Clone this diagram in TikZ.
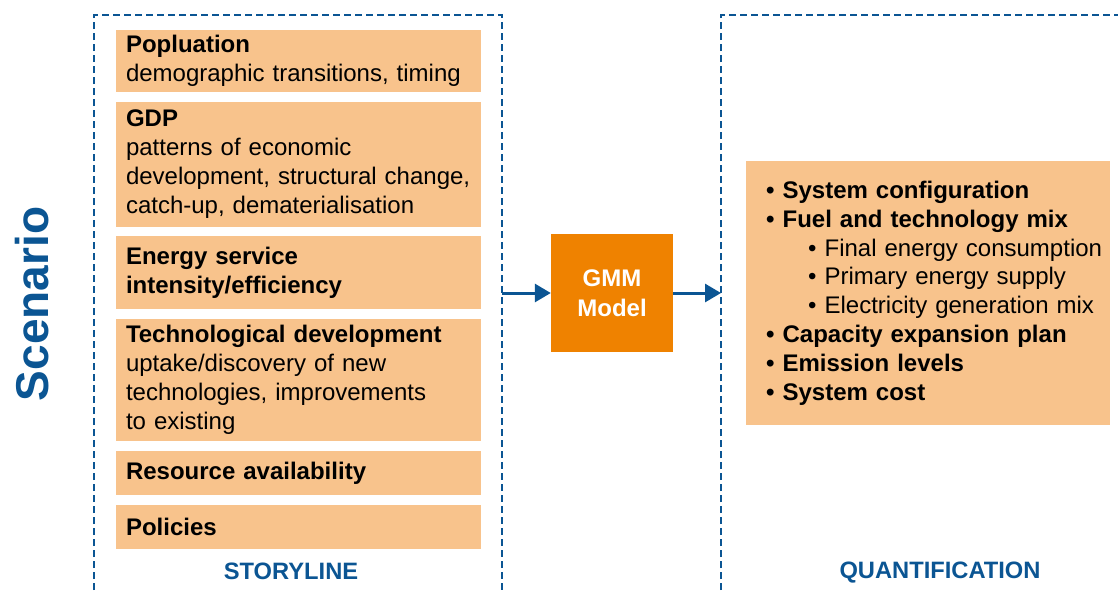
\documentclass[tikz,border=0pt]{standalone}
\usepackage{fontspec}
\setmainfont{Liberation Sans}
\usetikzlibrary{arrows.meta,positioning}

\definecolor{scenblue}{HTML}{0B5593}
\definecolor{lightorange}{HTML}{F8C38C}
\definecolor{darkorange}{HTML}{EF8200}

\tikzset{
	storybox/.style={fill=lightorange, anchor=north, minimum width=365pt, text width=345pt,
		inner xsep=10pt, outer sep=0pt, align=left, font=\fontsize{24}{29}\selectfont},
	frame/.style={draw=scenblue, line width=2.2pt, dash pattern=on 7pt off 4pt},
	flow/.style={draw=scenblue, line width=3pt, -{Triangle[length=16pt,width=18pt]}},
	caption/.style={text=scenblue, font=\fontsize{23.7}{26}\selectfont\bfseries}
}

\begin{document}
\begin{tikzpicture}[x=1pt,y=-1pt]
	\useasboundingbox (0,0) rectangle (1118,590);
	% frames
	\draw[frame] (94,590) -- (94,15) -- (502,15) -- (502,590);
	\draw[frame] (721,590) -- (721,15) -- (1118,15);
	\coordinate (storyR) at (502,293);
	\coordinate (quantL) at (721,293);

	\node[rotate=90, text=scenblue, font=\fontsize{46}{50}\selectfont\bfseries] (scen) at (32,304) {Scenario};

	% storyline
	\node[storybox, minimum height=62pt] (pop) at (298.5,30)
		{\textbf{Popluation}\\demographic transitions, timing};
	\node[storybox, minimum height=125pt, below=10pt of pop] (gdp)
		{\textbf{GDP}\\patterns of economic\\development, structural change,\\catch-up, dematerialisation};
	\node[storybox, minimum height=73pt, below=9pt of gdp] (eff)
		{\textbf{Energy service}\\\textbf{intensity/efficiency}};
	\node[storybox, minimum height=122pt, below=10pt of eff] (tech)
		{\textbf{Technological development}\\uptake/discovery of new\\technologies, improvements\\to existing};
	\node[storybox, minimum height=44pt, below=10pt of tech] (res)
		{\textbf{Resource availability}};
	\node[storybox, minimum height=44pt, below=10pt of res] (pol)
		{\textbf{Policies}};
	\node[caption] (story) at (291,571) {STORYLINE};

	% model
	\node[fill=darkorange, text=white, minimum width=122pt, minimum height=118pt, align=center,
		font=\fontsize{24}{30}\selectfont\bfseries] (gmm) at (612,293) {GMM\\Model};

	% quantification
	\node[fill=lightorange, anchor=north west, minimum width=364pt, minimum height=264pt,
		text width=354pt, inner xsep=5pt, align=left, font=\fontsize{24}{28.9}\selectfont] (out) at (746,161)
		{\hspace*{15pt}\textbf{\textbullet\ System configuration}\\
		\hspace*{15pt}\textbf{\textbullet\ Fuel and technology mix}\\
		\hspace*{57pt}\textbullet\ Final energy consumption\\
		\hspace*{57pt}\textbullet\ Primary energy supply\\
		\hspace*{57pt}\textbullet\ Electricity generation mix\\
		\hspace*{15pt}\textbf{\textbullet\ Capacity expansion plan}\\
		\hspace*{15pt}\textbf{\textbullet\ Emission levels}\\
		\hspace*{15pt}\textbf{\textbullet\ System cost}};
	\node[caption] (quant) at (940,573) {QUANTIFICATION};

	\draw[flow] (storyR) -- (gmm);
	\draw[flow] (gmm) -- (quantL);
\end{tikzpicture}
\end{document}
